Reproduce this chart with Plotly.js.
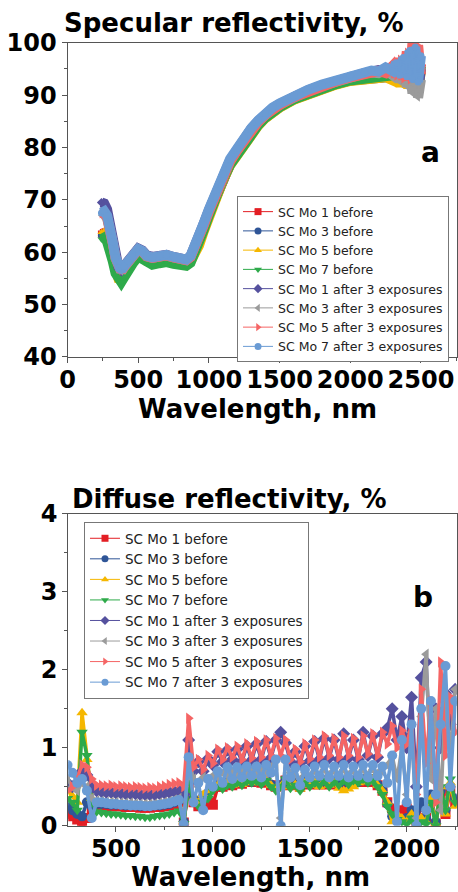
<!DOCTYPE html>
<html>
<head>
<meta charset="utf-8">
<script src="https://cdn.plot.ly/plotly-3.0.1.min.js"></script>
<style>html,body{margin:0;padding:0;background:#fff;}#chart{width:458px;height:892px;}</style>
</head>
<body>
<div id="chart"></div>
<script>
// ---------- shared series info ----------
const seriesNames = ['SC Mo 1 before','SC Mo 3 before','SC Mo 5 before','SC Mo 7 before',
  'SC Mo 1 after 3 exposures','SC Mo 3 after 3 exposures','SC Mo 5 after 3 exposures','SC Mo 7 after 3 exposures'];

// ---------- (a) specular reflectivity, % ----------
const specWavelength = [240,260,280,300,320,340,360,380,400,430,460,500,530,560,600,650,700,750,800,840,870,900,930,960,1000,1050,1100,1150,1200,1250,1300,1350,1400,1450,1500,1600,1700,1800,1900,2000,2050,2100,2150,2200,2250,2300,2325,2350,2375,2400,2420,2440,2460,2480,2500];

const specMo1Before = [63.5,63.7,63,61.5,59.5,57.3,55.8,55.5,56.3,
  57.6,58.5,59.9,59.5,58.6,58.3, 58.6,58.8,58.4,58,57.9,58.5,
  60.2,61.9,64.3,67.3, 70.9,74.1,76.9,79,81.1,83,84.5,85.8,86.9,87.8,
  89.3,90.4,91.4,92.2,92.9, 93,93.1,93.2,93.3,93.4,93.6, 94.5,93,95.5,92.5, 96.5,92,98,92.5,96];
const specMo3Before = [63.2,63.4,62.7,61.2,59.2,57,55.5,55.2,56,
  57.4,58.3,59.7,59.3,58.4,58.1, 58.4,58.6,58.2,57.8,57.7,58.4,
  60.1,61.8,64.2,67.2, 70.8,74,76.8,78.9,81,82.9,84.4,85.7,86.8,87.7,
  89.2,90.3,91.3,92.1,92.8, 92.9,93.1,93.3,93.5,93.4,94, 95,92.8,96,92.2, 97,92.5,97.5,91.5,95];
const specMo5Before = [63.8,63.6,62.5,60.8,58.8,56.5,55,54.9,55.7,
  57.2,58.1,59.5,59.2,58.3,58, 58.3,58.5,58.1,57.7,57.6,58.2,
  59.6,61.3,63.7,66.8, 70.5,73.7,76.6,78.7,80.8,82.7,84.2,85.6,86.7,87.6,
  89.1,90.2,91.2,92,92.7, 92.8,93,93.1,93.2,93.4,92.8, 94,91.8,95.5,91.5, 96,92,95.5,91.2,94.5];
const specMo7Before = [62.5,62.8,62,60.5,58.3,56,54.6,54.3,55.2,
  56.8,57.8,59.2,58.8,57.9,57.6, 57.9,58.1,57.8,57.5,57.4,58,
  59.8,61.6,64,67, 70.7,73.9,76.7,78.8,80.9,82.8,84.3,85.7,86.8,87.7,
  89.2,90.3,91.3,92.1,92.8, 92.9,93.1,93.3,93.4,93.5,93.8, 94.8,93,95.8,92.6, 96.8,92.4,97.8,92,95.5];
const specMo1After = [69.5,69.3,68.2,65.5,62.2,59.2,57.2,56.7,57.4,
  58.4,59.3,60.7,60.3,59.4,59.1, 59.4,59.5,59.1,58.7,58.6,59.2,
  60.9,62.6,65.2,68, 71.6,74.8,77.6,79.6,81.8,83.6,85.1,86.4,87.5,88.3,
  89.8,90.9,91.9,92.8,93.6, 93.8,94.2,94.5,94.8,94.6,95.5, 93.6,96.5,92.6,95.8, 91.8,97.2,93.5,90.5,95];
const specMo3After = [67,67.2,66.5,64.6,61.7,58.8,56.8,56.3,57.1,
  58.2,59.1,60.5,60.1,59.2,58.9, 59.2,59.4,59,58.6,58.5,59.1,
  60.8,62.5,65,67.9, 71.5,74.7,77.5,79.5,81.7,83.5,85,86.3,87.4,88.2,
  89.7,90.8,91.8,92.7,93.5, 93.7,94.1,94.3,94.2,94.8,93.8, 95.4,92.5,96,91.6, 94.8,90.3,96.5,89.5,93];
const specMo5After = [67.2,67.5,66.7,64.8,61.8,58.9,56.9,56.4,57.2,
  58.2,59.1,60.5,60.1,59.2,58.9, 59.2,59.4,59,58.6,58.5,59.1,
  60.7,62.4,64.9,67.7, 71.3,74.5,77.3,79.4,81.5,83.3,84.9,86.2,87.3,88.1,
  89.6,90.7,91.7,92.6,93.4, 93.6,94,94.3,94.6,94.2,95.6, 93.5,97,93,98.3, 92.8,100,93.5,99.5,94];
const specMo7After = [67.5,67.8,67,65,62,59,57,56.5,57.3,
  58.3,59.2,60.6,60.2,59.3,59, 59.3,59.5,59.1,58.7,58.6,59.3,
  61,62.8,65.3,68.2, 71.8,75,77.8,79.8,81.9,83.7,85.2,86.5,87.6,88.4,
  89.9,91,92,92.9,93.8, 94,94.4,94.7,94.5,95.3,94.6, 96.2,93.8,97.2,93.5, 98.5,93,99.2,92.5,97.5];

// ---------- (b) diffuse reflectivity, % ----------
const diffWavelength = [250,275,300,325,350,375,400,425,450,475,500,525,550,575,600,625,650,675,700,725,750,775,800,825,850,875,900,925,950,975,1000,1025,1050,1075,1100,1125,1150,1175,1200,1225,1250,1275,1300,1325,1350,1375,1400,1425,1450,1475,1500,1525,1550,1575,1600,1625,1650,1675,1700,1725,1750,1775,1800,1825,1850,1875,1900,1925,1950,1975,2000,2025,2050,2075,2100,2125,2150,2175,2200,2225,2250];

const diffMo1Before = [0.15,0.12,0.08,0.04,0.1,0.2,0.25,
  0.26,0.26,0.25,0.25,0.25,0.24,0.24,0.24,0.23,0.23,0.23,0.24,0.24,0.25,0.26,0.28,0.3,
  0.04,0.5,
  0.3,0.25,0.28,0.3,0.27,0.5,0.5,0.55,0.52,0.56,
  0.54,0.58,0.56,0.58,0.55,0.58,0.52,0.5,0.52,0.58,
  0.52,0.55,0.5,0.56,0.53,0.56,0.53,0.58,0.53,0.56,
  0.53,0.57,0.55,0.58,0.56,0.6,0.56,0.58,0.52,0.45,
  0.3,0.22,0.2,0.12,0.22,0.15,0.05,0.25,0.1,0.35,
  0.02,0.4,0.15,0.45,0.3];
const diffMo3Before = [0.25,0.2,0.15,0.12,0.3,0.25,0.28,
  0.28,0.28,0.27,0.27,0.27,0.26,0.26,0.26,0.25,0.25,0.25,0.26,0.26,0.27,0.28,0.3,0.32,
  0.05,0.55,
  0.35,0.3,0.38,0.42,0.5,0.53,0.52,0.56,0.54,0.57,
  0.55,0.58,0.56,0.59,0.56,0.59,0.53,0.5,0.52,0.59,
  0.53,0.55,0.5,0.57,0.54,0.57,0.54,0.58,0.54,0.57,
  0.54,0.58,0.55,0.58,0.56,0.6,0.57,0.6,0.53,0.45,
  0.28,0.12,0.1,0.08,0.1,0.2,0.05,0.3,0.1,0.4,
  0.05,0.45,0.2,0.5,0.35];
const diffMo5Before = [0.45,0.38,0.3,1.45,0.85,0.35,0.3,
  0.3,0.3,0.29,0.29,0.28,0.28,0.28,0.27,0.27,0.27,0.27,0.27,0.28,0.29,0.3,0.31,0.33,
  0.05,0.6,
  0.35,0.3,0.4,0.45,0.5,0.52,0.5,0.55,0.52,0.56,
  0.53,0.58,0.55,0.58,0.55,0.58,0.52,0.48,0.5,0.58,
  0.5,0.53,0.47,0.55,0.52,0.56,0.5,0.57,0.52,0.55,
  0.48,0.45,0.47,0.5,0.55,0.58,0.56,0.6,0.52,0.45,
  0.3,0.05,0.15,0.1,0.05,0.15,0,0.1,0.05,0.35,
  0.02,0.5,0.15,0.55,0.25];
const diffMo7Before = [0.35,0.3,0.2,1.2,0.9,0.3,0.18,
  0.17,0.16,0.15,0.15,0.14,0.13,0.13,0.12,0.12,0.11,0.11,0.12,0.13,0.14,0.15,0.17,0.19,
  0.03,0.55,
  0.3,0.25,0.3,0.35,0.45,0.5,0.47,0.52,0.5,0.55,
  0.52,0.57,0.55,0.57,0.53,0.58,0.5,0.45,0.5,0.6,
  0.48,0.52,0.45,0.55,0.5,0.55,0.52,0.58,0.5,0.56,
  0.52,0.58,0.53,0.58,0.55,0.6,0.55,0.58,0.5,0.4,
  0.25,0.15,0.08,0.05,0.02,0.1,0,0.05,0.02,0.3,
  0,0.5,0.2,0.6,0.3];
const diffMo1After = [0.55,0.5,0.55,0.7,0.65,0.52,0.45,
  0.44,0.43,0.43,0.42,0.42,0.41,0.41,0.41,0.4,0.4,0.4,0.4,0.41,0.42,0.43,0.44,0.45,
  0.4,1.1,
  0.7,0.82,0.7,0.86,0.78,0.95,0.82,0.97,0.85,0.98,
  0.82,1.02,0.84,1.05,0.85,1.08,0.87,1.1,1.2,1.06,
  0.82,0.95,0.8,1.02,0.83,1.08,0.85,1.12,0.87,1.1,
  0.85,1.18,0.87,1.1,0.85,1.2,0.9,1.15,0.88,1.18,
  1.25,1.5,1.1,1.4,1.0,1.65,0.5,1.9,2.1,0.8,
  1.5,1.0,1.7,1.3,1.75];
const diffMo3After = [0.6,0.5,0.45,0.55,0.5,0.35,0.32,
  0.31,0.3,0.3,0.3,0.29,0.29,0.29,0.28,0.28,0.28,0.28,0.28,0.29,0.3,0.31,0.33,0.35,
  0.05,0.85,
  0.6,0.5,0.62,0.58,0.64,0.62,0.68,0.64,0.7,0.66,
  0.7,0.66,0.72,0.66,0.72,0.68,0.76,0.78,0.1,0.82,
  0.68,0.66,0.6,0.68,0.64,0.7,0.66,0.72,0.66,0.7,
  0.66,0.72,0.66,0.7,0.66,0.72,0.66,0.72,0.68,0.7,
  0.78,0.9,0.6,1.0,0.4,1.2,0.1,1.4,2.2,0.6,
  1.5,0.2,1.7,0.9,1.75];
const diffMo5After = [0.45,0.5,0.62,0.78,0.75,0.6,0.52,
  0.52,0.51,0.52,0.5,0.51,0.5,0.49,0.5,0.49,0.48,0.49,0.48,0.5,0.51,0.53,0.54,0.55,
  0.5,1.38,
  0.75,0.85,0.72,0.9,0.8,0.98,0.85,1.0,0.88,1.02,
  0.85,1.05,0.87,1.08,0.88,1.1,0.9,1.12,0.9,1.1,
  0.85,0.98,0.82,1.05,0.86,1.1,0.88,1.15,0.9,1.12,
  0.88,1.15,0.9,1.12,0.88,1.15,0.92,1.18,0.9,1.2,
  1.05,1.28,1.0,1.22,1.05,1.3,0.4,1.75,0.8,1.6,
  0.3,2.1,0.9,1.65,1.2];
const diffMo7After = [0.78,0.68,0.55,0.6,0.45,0.1,0.3,
  0.3,0.29,0.28,0.28,0.27,0.27,0.26,0.26,0.26,0.25,0.25,0.26,0.27,0.28,0.29,0.31,0.33,
  0.02,0.88,
  0.3,0.55,0.2,0.6,0.5,0.7,0.55,0.75,0.6,0.75,
  0.62,0.76,0.64,0.76,0.62,0.78,0.68,0.85,0,0.85,
  0.62,0.74,0.52,0.72,0.62,0.76,0.64,0.78,0.62,0.76,
  0.64,0.78,0.62,0.76,0.64,0.78,0.62,0.78,0.64,0.76,
  0.55,0.9,0.05,1.1,0.3,1.3,0,1.5,0.2,1.6,
  0.4,1.3,2.05,0.5,1.6];

// ---------- styles ----------
const markerSymbols = ['square','circle','triangle-up','triangle-down','diamond','triangle-left','triangle-right','circle'];
const markerColors = ['#e31e24','#2f5597','#f5b700','#2eaa4a','#55519e','#9b9b9b','#f56565','#6a9bd4'];

const specSeries = [specMo1Before,specMo3Before,specMo5Before,specMo7Before,specMo1After,specMo3After,specMo5After,specMo7After];
const diffSeries = [diffMo1Before,diffMo3Before,diffMo5Before,diffMo7Before,diffMo1After,diffMo3After,diffMo5After,diffMo7After];

const traces = [];
specSeries.forEach((ys, i) => {
  // dense band of the spectrum
  traces.push({x: specWavelength, y: ys, type: 'scatter', mode: 'lines', xaxis: 'x', yaxis: 'y',
    line: {color: markerColors[i], width: 10}, showlegend: false, hoverinfo: 'skip'});
  // same data, thin line + symbols (gives the legend entry)
  traces.push({x: specWavelength, y: ys, type: 'scatter', mode: 'lines+markers', name: seriesNames[i],
    xaxis: 'x', yaxis: 'y', legend: 'legend',
    line: {color: markerColors[i], width: 1}, marker: {symbol: markerSymbols[i], size: 7, color: markerColors[i]}});
});
diffSeries.forEach((ys, i) => {
  traces.push({x: diffWavelength, y: ys, type: 'scatter', mode: 'lines+markers', xaxis: 'x2', yaxis: 'y2',
    line: {color: markerColors[i], width: 3.5}, marker: {symbol: markerSymbols[i], size: 10, color: markerColors[i]},
    showlegend: false, hoverinfo: 'skip'});
  traces.push({x: diffWavelength, y: ys, type: 'scatter', mode: 'lines+markers', name: seriesNames[i],
    xaxis: 'x2', yaxis: 'y2', legend: 'legend2',
    line: {color: markerColors[i], width: 1}, marker: {symbol: markerSymbols[i], size: 7, color: markerColors[i]}});
});

const BOLD = 'DejaVu Sans, Liberation Sans, Arial, sans-serif';
const axisCommon = {
  showline: true, linecolor: '#555', linewidth: 1, mirror: true,
  ticks: 'outside', ticklen: 5, tickwidth: 1, tickcolor: '#555',
  showgrid: false, zeroline: false,
  tickfont: {family: BOLD, size: 24, weight: 'bold', color: '#000'}
};
const titleFont = {family: BOLD, size: 26, weight: 'bold', color: '#000'};

const layout = {
  width: 458, height: 892,
  margin: {l: 0, r: 0, t: 0, b: 0},
  paper_bgcolor: '#fff', plot_bgcolor: '#fff',
  font: {family: BOLD, color: '#000'},
  xaxis: Object.assign({}, axisCommon, {
    domain: [0.1474, 0.9978], range: [0, 2755], anchor: 'y', tick0: 0, dtick: 500, ticklabelstandoff: -4,
    minor: {ticks: 'outside', ticklen: 3, dtick: 250, tick0: 0, tickcolor: '#555', showgrid: false}
  }),
  yaxis: Object.assign({}, axisCommon, {
    domain: [0.5998, 0.9521], range: [40, 100], anchor: 'x', tick0: 40, dtick: 10,
    minor: {ticks: 'outside', ticklen: 3, dtick: 5, tick0: 40, tickcolor: '#555', showgrid: false}
  }),
  xaxis2: Object.assign({}, axisCommon, {
    domain: [0.1491, 0.9972], range: [254, 2258], anchor: 'y2', tick0: 0, dtick: 500, ticklabelstandoff: -4,
    minor: {ticks: 'outside', ticklen: 3, dtick: 250, tick0: 0, tickcolor: '#555', showgrid: false}
  }),
  yaxis2: Object.assign({}, axisCommon, {
    domain: [0.0743, 0.4238], range: [0, 4], anchor: 'x2', tick0: 0, dtick: 1,
    minor: {ticks: 'outside', ticklen: 3, dtick: 0.5, tick0: 0, tickcolor: '#555', showgrid: false}
  }),
  legend: {x: 0.5175, y: 1 - 196/892, xanchor: 'left', yanchor: 'top', bgcolor: '#fff',
    bordercolor: '#777', borderwidth: 1, font: {family: 'DejaVu Sans, Arial, sans-serif', size: 12.5, color: '#222'},
    tracegroupgap: 0},
  legend2: {x: 0.1834, y: 1 - 522/892, xanchor: 'left', yanchor: 'top', bgcolor: '#fff',
    bordercolor: '#777', borderwidth: 1, font: {family: 'DejaVu Sans, Arial, sans-serif', size: 13.5, color: '#222'},
    tracegroupgap: 0},
  annotations: [
    {text: 'Specular reflectivity, %', xref: 'paper', yref: 'paper', x: 0.511, y: 1 - 23/892,
      xanchor: 'center', yanchor: 'middle', showarrow: false, font: titleFont},
    {text: 'Diffuse reflectivity, %', xref: 'paper', yref: 'paper', x: 0.5, y: 1 - 499/892,
      xanchor: 'center', yanchor: 'middle', showarrow: false, font: titleFont},
    {text: 'Wavelength, nm', xref: 'paper', yref: 'paper', x: 257/458, y: 1 - 409/892,
      xanchor: 'center', yanchor: 'middle', showarrow: false, font: titleFont},
    {text: 'Wavelength, nm', xref: 'paper', yref: 'paper', x: 250/458, y: 1 - 877/892,
      xanchor: 'center', yanchor: 'middle', showarrow: false, font: titleFont},
    {text: 'a', xref: 'paper', yref: 'paper', x: 430/458, y: 1 - 152/892,
      xanchor: 'center', yanchor: 'middle', showarrow: false, font: {family: BOLD, size: 28, weight: 'bold', color: '#000'}},
    {text: 'b', xref: 'paper', yref: 'paper', x: 423/458, y: 1 - 597/892,
      xanchor: 'center', yanchor: 'middle', showarrow: false, font: {family: BOLD, size: 28, weight: 'bold', color: '#000'}}
  ]
};

Plotly.newPlot('chart', traces, layout, {displayModeBar: false, staticPlot: true});
</script>
</body>
</html>
